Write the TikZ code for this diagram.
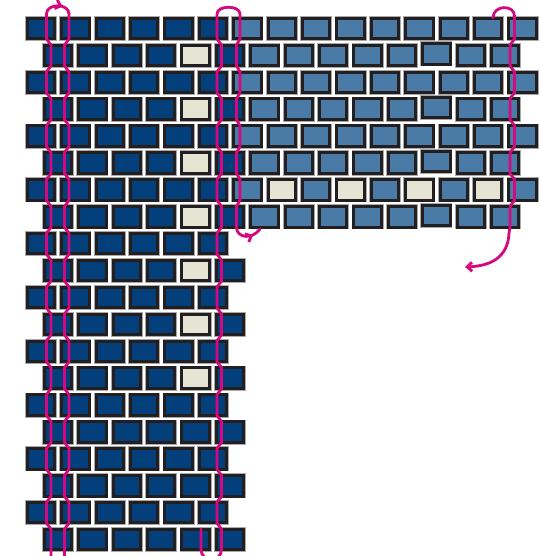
\documentclass[tikz,border=0pt]{standalone}
\usepackage{tikz}
\usetikzlibrary{arrows.meta,decorations.markings}
\definecolor{navy}{HTML}{023F7B}
\definecolor{steel}{HTML}{4A7AA6}
\definecolor{cream}{HTML}{E6E5D4}
\definecolor{rim}{HTML}{231F20}
\definecolor{halo}{HTML}{A8A9AB}
\definecolor{threadpink}{HTML}{D4087F}

\begin{document}
\begin{tikzpicture}[
  x=1pt,y=-1pt,
  bead/.style={draw=rim,line width=3pt,minimum width=27.5pt,minimum height=20.5pt,
               inner sep=0pt,outer sep=0pt,
               preaction={draw=halo,line width=4.5pt}},
  darkbead/.style={bead,fill=navy},
  lightbead/.style={bead,fill=steel},
  creambead/.style={bead,fill=cream},
  thread/.style={draw=threadpink,line width=2.8pt,line cap=round,line join=round},
  tip/.style={-{Straight Barb[length=5pt,width=9pt]}},
  midtip/.style={postaction={decorate,decoration={markings,
      mark=at position #1 with {\arrow{Straight Barb[length=5pt,width=9pt]}}}}},
]
\useasboundingbox (0,0) rectangle (539,556);
\clip (0,0) rectangle (539,556);

% Dark strip, even rows
\foreach \r in {0,2,...,18}
  \foreach \c in {0,...,5}
    \node[darkbead] (e\r-\c) at ({41+34.4*\c},{28.5+26.9*\r}) {};

% Dark strip, odd rows (cream bead in fifth place down to row 13)
\foreach \r in {1,3,...,19}
  \foreach \c in {0,...,5} {
    \def\kind{darkbead}
    \ifnum\c=4 \ifnum\r<14 \def\kind{creambead}\fi\fi
    \node[\kind] (o\r-\c) at ({58+34.4*\c},{28.5+26.9*\r}) {};
  }

% Light panel, even rows (row 6 alternates cream)
\foreach \r in {0,2,4,6}
  \foreach \c in {6,...,14} {
    \def\kind{lightbead}
    \ifnum\r=6 \ifodd\c\relax \def\kind{creambead}\fi\fi
    \node[\kind] (e\r-\c) at ({41+34.4*\c},{28.5+26.9*\r}) {};
  }

% Light panel, odd rows (one bead sits a little high)
\foreach \r in {1,3,5,7}
  \foreach \c in {6,...,13} {
    \def\lift{0}
    \ifnum\c=11 \def\lift{1.5}\fi
    \node[lightbead] (o\r-\c) at ({58+34.4*\c},{28.5+26.9*\r-\lift}) {};
  }

% Thread ends
\coordinate (aL) at (46.5,14);
\coordinate (aR) at (69,14);
\coordinate (bL) at (217,14);
\coordinate (bR) at (240,14);
\coordinate (bHook) at (236.5,228);
\coordinate (bEnd) at (260,229);
\coordinate (cStart) at (493,18);
\coordinate (cEnd) at (465,267);

% Left thread: up, over the top, back down
\draw[thread] (51,565)
  \foreach \r [evaluate=\r as \xx using {isodd(\r) ? 51 : 46.5}] in {19,18,...,0}
    { -- (\xx,{16+26.9*\r+23}) -- (\xx,{16+26.9*\r+2}) }
  -- (aL);
\draw[thread,midtip=0.66] (aL) .. controls +(0,-11) and +(0,-11) .. (aR);
\draw[thread] (aR)
  \foreach \r [evaluate=\r as \xx using {isodd(\r) ? 64.5 : 69}] in {0,...,19}
    { -- (\xx,{16+26.9*\r+2}) -- (\xx,{16+26.9*\r+23}) }
  -- (64.5,565);

% Middle thread: turns below, climbs, turns back into the light panel
\draw[thread] (201,529) -- (201,549) .. controls (201,563) and (221.5,563) .. (221.5,549)
  \foreach \r [evaluate=\r as \xx using {isodd(\r) ? 221.5 : 217}] in {19,18,...,0}
    { -- (\xx,{16+26.9*\r+23}) -- (\xx,{16+26.9*\r+2}) }
  -- (bL);
\draw[thread] (bL) .. controls +(0,-9) and +(0,-9) .. (bR)
  \foreach \r [evaluate=\r as \xx using {isodd(\r) ? 236.5 : 240}] in {0,...,7}
    { -- (\xx,{16+26.9*\r+2}) -- (\xx,{16+26.9*\r+23}) }
  -- (bHook);
\draw[thread,midtip=0.7] (bHook) .. controls (237.5,238) and (252,240) .. (bEnd);

% Right thread: out of the top bead, down the edge, away
\draw[thread,tip] (cStart) .. controls (493,4.5) and (514.5,4.5) .. (514.5,16)
  \foreach \r [evaluate=\r as \xx using {isodd(\r) ? 510 : 514.5}] in {0,...,7}
    { -- (\xx,{16+26.9*\r+2}) -- (\xx,{16+26.9*\r+23}) }
  -- (509,233) .. controls (508,258) and (490,266) .. (cEnd);

\end{tikzpicture}
\end{document}
